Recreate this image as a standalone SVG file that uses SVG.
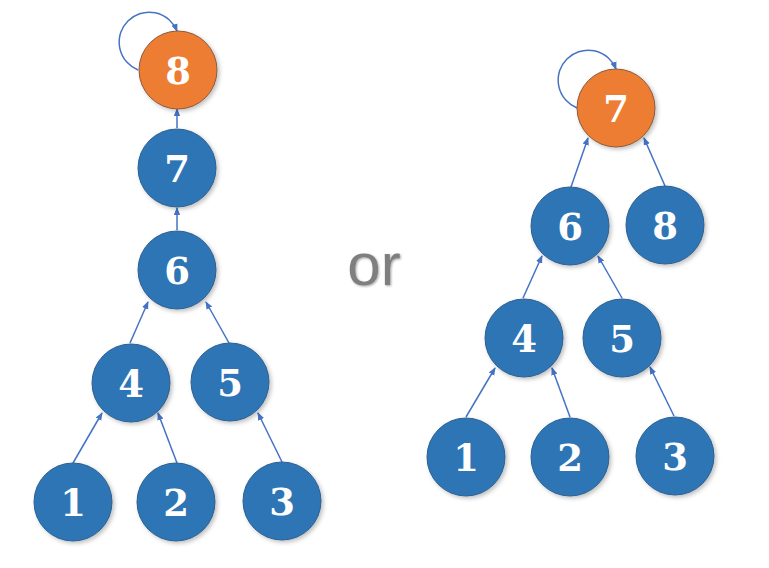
<svg xmlns="http://www.w3.org/2000/svg" width="769" height="568" viewBox="0 0 769 568">
<defs>
<marker id="arr" markerWidth="8" markerHeight="8" refX="7" refY="4" orient="auto" markerUnits="userSpaceOnUse">
<path d="M0,0.8 L8,4 L0,7.2 z" fill="#4472C4"/>
</marker>
<filter id="sh" x="-20%" y="-20%" width="150%" height="150%">
<feDropShadow dx="2" dy="2" stdDeviation="2" flood-color="#000" flood-opacity="0.25"/>
</filter>
<filter id="tsh" x="-20%" y="-20%" width="150%" height="150%">
<feDropShadow dx="1" dy="1" stdDeviation="1" flood-color="#000" flood-opacity="0.35"/>
</filter>
</defs>
<style>
.n circle{fill:#2E75B6;stroke:#2B5F8F;stroke-width:1;filter:url(#sh)}
.o circle{fill:#ED7D31;stroke:#8A5A3E;stroke-width:1;filter:url(#sh)}
.n text,.o text{font-family:"DejaVu Serif","Liberation Serif",serif;font-weight:bold;font-size:37px;fill:#FFFFFF;text-anchor:middle}
#edges line,#edges path{stroke:#4472C4;stroke-width:1.5;fill:none;marker-end:url(#arr)}
.or{font-family:"Liberation Sans",Arial,sans-serif;font-size:60px;fill:#7F7F7F;text-anchor:middle;filter:url(#tsh)}
</style>
<rect width="769" height="568" fill="#FFFFFF"/>
<g id="edges">
<path d="M138 70 A30 30 0 1 1 177 31"/>
<line x1="177" y1="128" x2="177" y2="109"/>
<line x1="177" y1="230" x2="177" y2="208"/>
<line x1="130" y1="343" x2="148" y2="302"/>
<line x1="229" y1="343" x2="206" y2="302"/>
<line x1="73" y1="463" x2="102" y2="413"/>
<line x1="177" y1="463" x2="158" y2="413"/>
<line x1="282" y1="462" x2="258" y2="413"/>
<path d="M577 108 A30 30 0 1 1 616 69"/>
<line x1="571" y1="187" x2="588" y2="138"/>
<line x1="665" y1="186" x2="644" y2="138"/>
<line x1="523" y1="298" x2="542" y2="256"/>
<line x1="622" y1="298" x2="598" y2="256"/>
<line x1="466" y1="417" x2="495" y2="368"/>
<line x1="570" y1="417" x2="552" y2="368"/>
<line x1="674" y1="416" x2="650" y2="367"/>
</g>
<g id="L8" class="o"><circle cx="178" cy="70" r="39"/><text x="178" y="84">8</text></g>
<g id="L7" class="n"><circle cx="177" cy="168" r="39"/><text x="177" y="182">7</text></g>
<g id="L6" class="n"><circle cx="177" cy="270" r="39"/><text x="177" y="284">6</text></g>
<g id="L4" class="n"><circle cx="131" cy="383" r="39"/><text x="131" y="397">4</text></g>
<g id="L5" class="n"><circle cx="230" cy="382" r="39"/><text x="230" y="396">5</text></g>
<g id="L1" class="n"><circle cx="73" cy="502" r="39"/><text x="73" y="516">1</text></g>
<g id="L2" class="n"><circle cx="176" cy="502" r="39"/><text x="176" y="516">2</text></g>
<g id="L3" class="n"><circle cx="282" cy="501" r="39"/><text x="282" y="515">3</text></g>
<text class="or" x="374" y="285">or</text>
<g id="R7" class="o"><circle cx="616" cy="108" r="39"/><text x="616" y="122">7</text></g>
<g id="R6" class="n"><circle cx="570" cy="226" r="39"/><text x="570" y="240">6</text></g>
<g id="R8" class="n"><circle cx="665" cy="225" r="39"/><text x="665" y="239">8</text></g>
<g id="R4" class="n"><circle cx="524" cy="338" r="39"/><text x="524" y="352">4</text></g>
<g id="R5" class="n"><circle cx="622" cy="338" r="39"/><text x="622" y="352">5</text></g>
<g id="R1" class="n"><circle cx="466" cy="457" r="39"/><text x="466" y="471">1</text></g>
<g id="R2" class="n"><circle cx="570" cy="457" r="39"/><text x="570" y="471">2</text></g>
<g id="R3" class="n"><circle cx="675" cy="456" r="39"/><text x="675" y="470">3</text></g>
</svg>
